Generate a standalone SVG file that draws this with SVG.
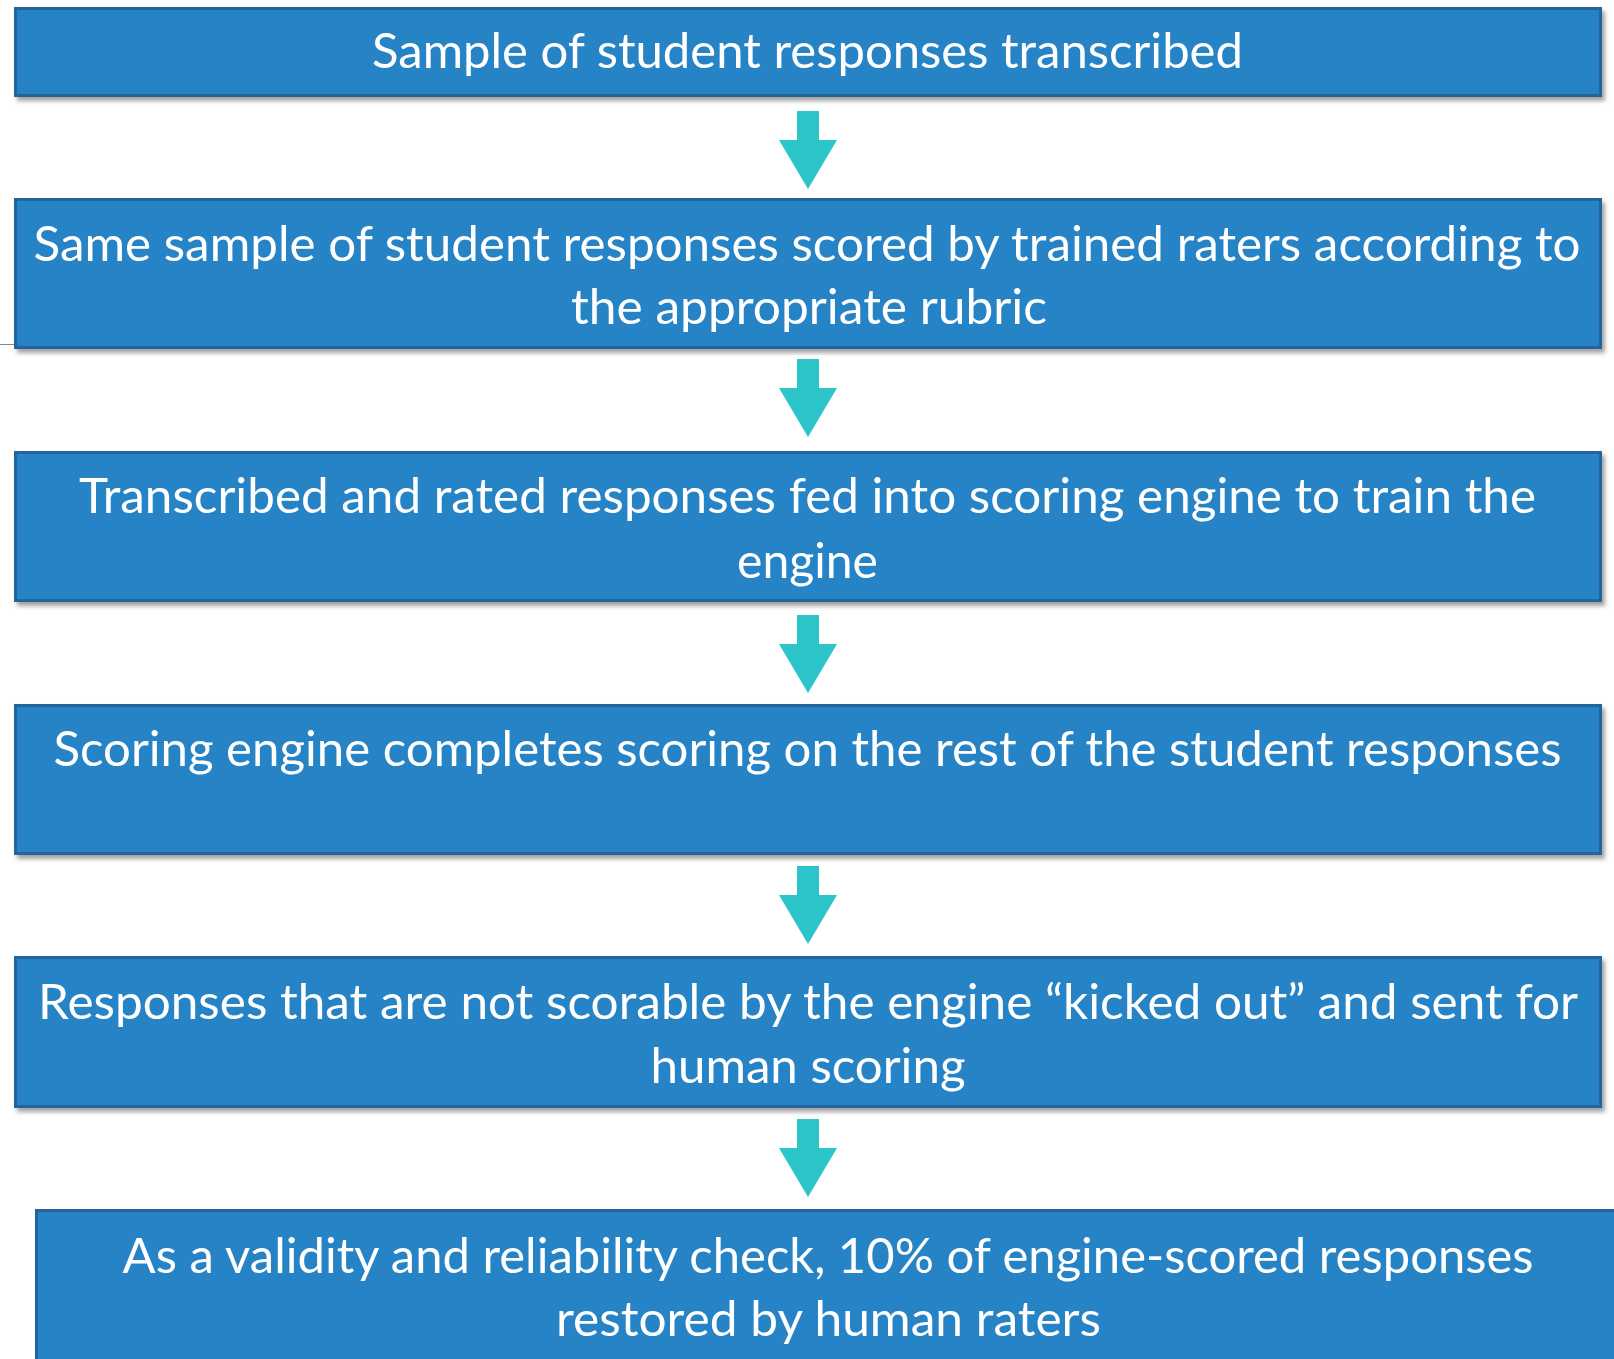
<svg xmlns="http://www.w3.org/2000/svg" width="1614" height="1359" viewBox="0 0 1614 1359">
  <style>
    .box { fill: #2683c6; stroke: #23659a; stroke-width: 3; filter: url(#shadow); }
    .label { font-family: Lato, "Open Sans", "Liberation Sans", sans-serif; font-size: 49px; fill: #ffffff; text-anchor: middle; }
    .arrow { fill: #2bc4c9; }
    .patch { fill: #ffffff; }
  </style>
  <defs>
    <filter id="shadow" x="-5%" y="-20%" width="110%" height="150%">
      <feDropShadow dx="3" dy="4" stdDeviation="2.2" flood-color="#555555" flood-opacity="0.55"/>
    </filter>
    <!-- down arrow, tip at origin-relative (0,78) -->
    <path id="down" d="M -11 0 H 11 V 29 H 29 L 0 78 L -29 29 H -11 Z"/>
  </defs>

  <rect width="1614" height="1359" fill="#ffffff"/>

  <!-- small guide line at the left edge -->
  <line x1="0" y1="344.5" x2="14" y2="344.5" stroke="#8a8a8a" stroke-width="1"/>

  <g id="connectors">
    <use href="#down" class="arrow" x="808" y="111"/>
    <rect class="patch" x="791" y="353" width="33" height="7" rx="3"/>
    <use href="#down" class="arrow" x="808" y="359"/>
    <use href="#down" class="arrow" x="808" y="615"/>
    <rect class="patch" x="791" y="859" width="33" height="7" rx="3"/>
    <use href="#down" class="arrow" x="808" y="866"/>
    <use href="#down" class="arrow" x="808" y="1119"/>
  </g>

  <g id="step1">
    <rect class="box" x="15.5" y="8.5" width="1585" height="87"/>
    <text class="label" x="807.5" y="68" textLength="871" lengthAdjust="spacingAndGlyphs">Sample of student responses transcribed</text>
  </g>

  <g id="step2">
    <rect class="box" x="15.5" y="199.5" width="1585" height="148"/>
    <text class="label" x="807" y="261" textLength="1547" lengthAdjust="spacingAndGlyphs">Same sample of student responses scored by trained raters according to</text>
    <text class="label" x="809" y="324" textLength="476" lengthAdjust="spacingAndGlyphs">the appropriate rubric</text>
  </g>

  <g id="step3">
    <rect class="box" x="15.5" y="452.5" width="1585" height="148"/>
    <text class="label" x="807.5" y="513" textLength="1457" lengthAdjust="spacingAndGlyphs">Transcribed and rated responses fed into scoring engine to train the</text>
    <text class="label" x="807.5" y="578" textLength="141" lengthAdjust="spacingAndGlyphs">engine</text>
  </g>

  <g id="step4">
    <rect class="box" x="15.5" y="705.5" width="1585" height="148"/>
    <text class="label" x="807.5" y="766" textLength="1508" lengthAdjust="spacingAndGlyphs">Scoring engine completes scoring on the rest of the student responses</text>
  </g>

  <g id="step5">
    <rect class="box" x="15.5" y="957.5" width="1585" height="149"/>
    <text class="label" x="808" y="1019" textLength="1540" lengthAdjust="spacingAndGlyphs">Responses that are not scorable by the engine “kicked out” and sent for</text>
    <text class="label" x="808" y="1083" textLength="315" lengthAdjust="spacingAndGlyphs">human scoring</text>
  </g>

  <g id="step6">
    <rect class="box" x="36.5" y="1210.5" width="1590" height="160"/>
    <text class="label" x="828" y="1273" textLength="1411" lengthAdjust="spacingAndGlyphs">As a validity and reliability check, 10% of engine-scored responses</text>
    <text class="label" x="828.5" y="1336" textLength="545" lengthAdjust="spacingAndGlyphs">restored by human raters</text>
  </g>
</svg>
